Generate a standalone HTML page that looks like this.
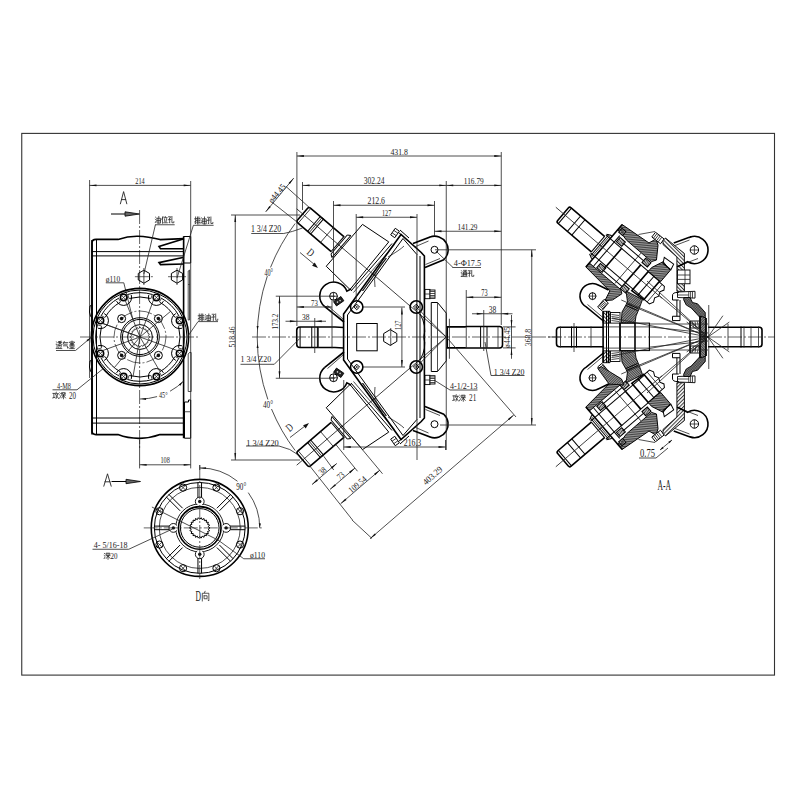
<!DOCTYPE html>
<html><head><meta charset="utf-8"><style>
html,body{margin:0;padding:0;background:#fff;width:800px;height:800px;overflow:hidden}
svg{display:block}
.fr{fill:none;stroke:#333;stroke-width:1.1}
.m{fill:none;stroke:#000;stroke-width:1.0}
.k{fill:none;stroke:#000;stroke-width:1.6}
.t{fill:none;stroke:#222;stroke-width:0.8}
.c{fill:none;stroke:#222;stroke-width:0.7;stroke-dasharray:14 2 2 2}
.d{fill:none;stroke:#333;stroke-width:0.55;stroke-dasharray:2 1.5}
.ar{fill:#111;stroke:none}
.fk{fill:#111;stroke:none}
.h{fill:url(#hatch);stroke:#000;stroke-width:0.9}
.h2{fill:url(#hatch2);stroke:#000;stroke-width:0.9}
.h3{fill:url(#hatch3);stroke:#000;stroke-width:0.9}
.hw{fill:#fff;stroke:#000;stroke-width:0.9}
.tx{font-family:"Liberation Serif",serif;fill:#1a1a1a}
.cj{fill:none;stroke:#222;stroke-width:0.75;stroke-linecap:round;stroke-linejoin:round}
</style></head><body>
<svg width="800" height="800" viewBox="0 0 800 800">
<defs>
<pattern id="hatch" patternUnits="userSpaceOnUse" width="1.8" height="1.8" patternTransform="rotate(45)">
<rect width="1.8" height="1.8" fill="#999"/><rect width="0.9" height="1.8" fill="#444"/></pattern>
<pattern id="hatch2" patternUnits="userSpaceOnUse" width="2.6" height="2.6" patternTransform="rotate(-45)">
<rect width="2.6" height="2.6" fill="#fff"/><rect width="1.0" height="2.6" fill="#333"/></pattern>
<pattern id="hatch3" patternUnits="userSpaceOnUse" width="1.6" height="1.6">
<rect width="1.6" height="1.6" fill="#888"/><rect width="0.8" height="0.8" fill="#333"/><rect x="0.8" y="0.8" width="0.8" height="0.8" fill="#333"/></pattern>
</defs>
<rect width="800" height="800" fill="#fff"/>
<rect x="21.75" y="133.4" width="752.75" height="541.7" class="fr"/>
<line x1="89.60" y1="180.00" x2="89.60" y2="378.00" class="t"/>
<line x1="89.50" y1="185.40" x2="190.70" y2="185.40" class="t"/>
<path d="M89.50,185.40 L96.50,184.50 L96.50,186.30 Z" class="ar"/>
<path d="M190.70,185.40 L183.70,186.30 L183.70,184.50 Z" class="ar"/>
<text x="135.30" y="184.00" font-size="8.36" textLength="9.40" lengthAdjust="spacingAndGlyphs" class="tx">214</text>
<path d="M120.4,203.8 L123.6,191.6 L126.8,203.8 M121.5,199.6 L125.7,199.6" class="cj" style="stroke-width:0.9"/>
<line x1="111.00" y1="214.00" x2="126.00" y2="214.00" class="m"/>
<path d="M139.5,214 L125,211.8 L125,216.2 Z" style="fill:#666;stroke:#000;stroke-width:0.8"/>
<line x1="139.60" y1="210.00" x2="139.60" y2="450.00" class="c"/>
<path d="M92,434.6 L92,243 Q92,239.4 96,239.4 L118,239.4 Q128,236 138,236.2 Q148,236.4 160,239.6 L184,238.6" class="k"/>
<path d="M92,240 L92,431 Q92,434.6 96,434.6 L118,434.6 Q128,438.5 139.6,438.4 Q150,438.3 160,434.6 L184,434.6" class="k"/>
<line x1="96.50" y1="239.40" x2="96.50" y2="434.60" class="m"/>
<line x1="92.00" y1="251.60" x2="184.00" y2="251.60" class="m"/>
<line x1="92.00" y1="255.90" x2="184.00" y2="255.90" class="m"/>
<line x1="92.00" y1="418.00" x2="184.00" y2="418.00" class="m"/>
<line x1="92.00" y1="423.10" x2="184.00" y2="423.10" class="m"/>
<line x1="183.60" y1="236.50" x2="183.60" y2="438.20" class="k"/>
<path d="M183.60,236.50 L190.70,236.50 L190.70,263.00 L183.60,263.00 Z" class="m"/>
<path d="M184.50,402.00 L188.50,402.00 L188.50,400.00 L190.70,400.00 L190.70,438.20 L184.50,438.20 Z" class="m"/>
<line x1="184.50" y1="411.75" x2="190.70" y2="411.75" class="t"/>
<path d="M184.00,238.80 L159.00,246.50 L160.50,248.60 L184.00,248.70" class="k"/>
<path d="M184.00,257.30 L159.00,262.60 L160.50,264.60 L184.00,264.00" class="k"/>
<path d="M188.20,271.00 L189.50,270.00 L189.50,320.00 L188.20,320.00 Z" class="t"/>
<line x1="188.20" y1="284.50" x2="189.50" y2="284.50" class="t"/>
<path d="M188.20,354.00 L189.50,352.50 L191.20,352.50 L191.20,391.50 L188.20,391.50 Z" class="t"/>
<line x1="190.70" y1="181.00" x2="190.70" y2="468.40" class="t"/>
<path d="M92.00,305.00 L90.00,306.00 L89.50,312.00 L90.50,316.00 L92.00,318.00" class="m"/>
<path d="M92.00,360.00 L90.00,361.00 L89.50,367.00 L90.50,371.00 L92.00,373.00" class="m"/>
<path d="M143.90,283.20 L138.27,279.95 L138.27,273.45 L143.90,270.20 L149.53,273.45 L149.53,279.95 Z" class="m"/>
<line x1="134.90" y1="276.70" x2="152.90" y2="276.70" class="c"/>
<line x1="143.90" y1="268.00" x2="143.90" y2="285.00" class="t"/>
<path d="M177.00,283.20 L171.37,279.95 L171.37,273.45 L177.00,270.20 L182.63,273.45 L182.63,279.95 Z" class="m"/>
<line x1="168.00" y1="276.70" x2="186.00" y2="276.70" class="c"/>
<line x1="177.00" y1="268.00" x2="177.00" y2="285.00" class="t"/>
<line x1="155.40" y1="224.75" x2="143.90" y2="274.00" class="t"/>
<line x1="155.00" y1="224.75" x2="174.70" y2="224.75" class="t"/>
<path d="M155.48,217.12 L156.08,217.65" class="cj"/>
<path d="M155.30,219.15 L155.90,219.75" class="cj"/>
<path d="M155.30,222.60 L156.20,220.88" class="cj"/>
<path d="M157.10,218.25 L160.52,218.25 L160.52,223.12 L157.10,223.12 L157.10,218.25" class="cj"/>
<path d="M157.10,220.65 L160.52,220.65" class="cj"/>
<path d="M158.81,216.38 L158.81,223.12" class="cj"/>
<path d="M163.00,216.38 L161.80,219.38" class="cj"/>
<path d="M162.52,217.88 L162.52,223.35" class="cj"/>
<path d="M165.22,216.38 L165.46,217.12" class="cj"/>
<path d="M163.78,217.65 L167.20,217.65" class="cj"/>
<path d="M164.50,218.85 L164.86,221.62" class="cj"/>
<path d="M166.60,218.62 L166.00,222.00" class="cj"/>
<path d="M163.60,222.75 L167.38,222.75" class="cj"/>
<path d="M168.48,216.75 L170.70,216.75 L169.68,218.25" class="cj"/>
<path d="M169.68,218.25 L169.68,223.12 L169.20,222.60" class="cj"/>
<path d="M168.12,219.75 L171.00,219.38" class="cj"/>
<path d="M171.90,216.38 L171.90,222.75 L173.88,222.75 L173.88,221.62" class="cj"/>
<line x1="193.40" y1="225.30" x2="177.00" y2="278.00" class="t"/>
<line x1="193.40" y1="225.30" x2="213.60" y2="225.30" class="t"/>
<path d="M194.52,218.84 L196.50,218.84" class="cj"/>
<path d="M195.60,216.89 L195.60,223.91 L195.12,223.36" class="cj"/>
<path d="M194.52,221.96 L196.50,220.79" class="cj"/>
<path d="M197.52,216.89 L197.52,224.14" class="cj"/>
<path d="M198.90,216.89 L198.90,224.14" class="cj"/>
<path d="M196.68,218.45 L197.52,218.45" class="cj"/>
<path d="M196.68,220.40 L197.52,220.40" class="cj"/>
<path d="M196.68,222.58 L197.52,222.12" class="cj"/>
<path d="M198.90,218.45 L200.10,218.45" class="cj"/>
<path d="M198.90,220.40 L200.10,220.40" class="cj"/>
<path d="M198.90,222.35 L200.28,222.35" class="cj"/>
<path d="M201.18,217.67 L201.78,218.22" class="cj"/>
<path d="M201.00,219.78 L201.60,220.40" class="cj"/>
<path d="M201.00,223.36 L201.90,221.57" class="cj"/>
<path d="M202.80,218.84 L206.22,218.84 L206.22,223.91 L202.80,223.91 L202.80,218.84" class="cj"/>
<path d="M202.80,221.34 L206.22,221.34" class="cj"/>
<path d="M204.51,216.89 L204.51,223.91" class="cj"/>
<path d="M207.48,217.28 L209.70,217.28 L208.68,218.84" class="cj"/>
<path d="M208.68,218.84 L208.68,223.91 L208.20,223.36" class="cj"/>
<path d="M207.12,220.40 L210.00,220.01" class="cj"/>
<path d="M210.90,216.89 L210.90,223.52 L212.88,223.52 L212.88,222.35" class="cj"/>
<text x="105.80" y="281.75" font-size="7.99" textLength="14.40" lengthAdjust="spacingAndGlyphs" class="tx">ø110</text>
<line x1="105.80" y1="282.80" x2="123.80" y2="282.80" class="t"/>
<line x1="123.80" y1="282.80" x2="133.00" y2="320.00" class="t"/>
<circle cx="140.00" cy="337.00" r="48.60" class="k"/>
<circle cx="140.00" cy="337.00" r="47.00" class="m"/>
<path d="M178.93,358.14 A44.3,44.3 0 0 1 161.14,375.93" class="m"/>
<path d="M174.81,356.70 A40.0,40.0 0 0 1 159.70,371.81" class="m"/>
<line x1="174.98" y1="356.39" x2="178.75" y2="358.48" class="t"/>
<line x1="159.39" y1="371.98" x2="161.48" y2="375.75" class="t"/>
<path d="M152.58,379.48 A44.3,44.3 0 0 1 127.42,379.48" class="m"/>
<path d="M150.69,375.55 A40.0,40.0 0 0 1 129.31,375.55" class="m"/>
<line x1="151.03" y1="375.45" x2="152.21" y2="379.58" class="t"/>
<line x1="128.97" y1="375.45" x2="127.79" y2="379.58" class="t"/>
<path d="M118.86,375.93 A44.3,44.3 0 0 1 101.07,358.14" class="m"/>
<path d="M120.30,371.81 A40.0,40.0 0 0 1 105.19,356.70" class="m"/>
<line x1="120.61" y1="371.98" x2="118.52" y2="375.75" class="t"/>
<line x1="105.02" y1="356.39" x2="101.25" y2="358.48" class="t"/>
<path d="M97.52,349.58 A44.3,44.3 0 0 1 97.52,324.42" class="m"/>
<path d="M101.45,347.69 A40.0,40.0 0 0 1 101.45,326.31" class="m"/>
<line x1="101.55" y1="348.03" x2="97.42" y2="349.21" class="t"/>
<line x1="101.55" y1="325.97" x2="97.42" y2="324.79" class="t"/>
<path d="M101.07,315.86 A44.3,44.3 0 0 1 118.86,298.07" class="m"/>
<path d="M105.19,317.30 A40.0,40.0 0 0 1 120.30,302.19" class="m"/>
<line x1="105.02" y1="317.61" x2="101.25" y2="315.52" class="t"/>
<line x1="120.61" y1="302.02" x2="118.52" y2="298.25" class="t"/>
<path d="M127.42,294.52 A44.3,44.3 0 0 1 152.58,294.52" class="m"/>
<path d="M129.31,298.45 A40.0,40.0 0 0 1 150.69,298.45" class="m"/>
<line x1="128.97" y1="298.55" x2="127.79" y2="294.42" class="t"/>
<line x1="151.03" y1="298.55" x2="152.21" y2="294.42" class="t"/>
<path d="M161.14,298.07 A44.3,44.3 0 0 1 178.93,315.86" class="m"/>
<path d="M159.70,302.19 A40.0,40.0 0 0 1 174.81,317.30" class="m"/>
<line x1="159.39" y1="302.02" x2="161.48" y2="298.25" class="t"/>
<line x1="174.98" y1="317.61" x2="178.75" y2="315.52" class="t"/>
<path d="M182.48,324.42 A44.3,44.3 0 0 1 182.48,349.58" class="m"/>
<path d="M178.55,326.31 A40.0,40.0 0 0 1 178.55,347.69" class="m"/>
<line x1="178.45" y1="325.97" x2="182.58" y2="324.79" class="t"/>
<line x1="178.45" y1="348.03" x2="182.58" y2="349.21" class="t"/>
<path d="M175.85,360.47 A8,8 0 0 1 181.95,345.75" class="m"/>
<circle cx="179.54" cy="353.38" r="3.20" class="k"/>
<line x1="177.34" y1="351.18" x2="181.74" y2="355.58" class="t"/>
<line x1="177.34" y1="355.58" x2="181.74" y2="351.18" class="t"/>
<path d="M148.75,378.95 A8,8 0 0 1 163.47,372.85" class="m"/>
<circle cx="156.38" cy="376.54" r="3.20" class="k"/>
<line x1="154.18" y1="374.34" x2="158.58" y2="378.74" class="t"/>
<line x1="154.18" y1="378.74" x2="158.58" y2="374.34" class="t"/>
<path d="M116.53,372.85 A8,8 0 0 1 131.25,378.95" class="m"/>
<circle cx="123.62" cy="376.54" r="3.20" class="k"/>
<line x1="121.42" y1="374.34" x2="125.82" y2="378.74" class="t"/>
<line x1="121.42" y1="378.74" x2="125.82" y2="374.34" class="t"/>
<path d="M98.05,345.75 A8,8 0 0 1 104.15,360.47" class="m"/>
<circle cx="100.46" cy="353.38" r="3.20" class="k"/>
<line x1="98.26" y1="351.18" x2="102.66" y2="355.58" class="t"/>
<line x1="98.26" y1="355.58" x2="102.66" y2="351.18" class="t"/>
<path d="M104.15,313.53 A8,8 0 0 1 98.05,328.25" class="m"/>
<circle cx="100.46" cy="320.62" r="3.20" class="k"/>
<line x1="98.26" y1="318.42" x2="102.66" y2="322.82" class="t"/>
<line x1="98.26" y1="322.82" x2="102.66" y2="318.42" class="t"/>
<path d="M131.25,295.05 A8,8 0 0 1 116.53,301.15" class="m"/>
<circle cx="123.62" cy="297.46" r="3.20" class="k"/>
<line x1="121.42" y1="295.26" x2="125.82" y2="299.66" class="t"/>
<line x1="121.42" y1="299.66" x2="125.82" y2="295.26" class="t"/>
<path d="M163.47,301.15 A8,8 0 0 1 148.75,295.05" class="m"/>
<circle cx="156.38" cy="297.46" r="3.20" class="k"/>
<line x1="154.18" y1="295.26" x2="158.58" y2="299.66" class="t"/>
<line x1="154.18" y1="299.66" x2="158.58" y2="295.26" class="t"/>
<path d="M181.95,328.25 A8,8 0 0 1 175.85,313.53" class="m"/>
<circle cx="179.54" cy="320.62" r="3.20" class="k"/>
<line x1="177.34" y1="318.42" x2="181.74" y2="322.82" class="t"/>
<line x1="177.34" y1="322.82" x2="181.74" y2="318.42" class="t"/>
<circle cx="140.00" cy="337.00" r="26.00" class="c"/>
<circle cx="158.38" cy="355.38" r="4.00" class="m"/>
<circle cx="158.38" cy="355.38" r="1.8" class="fk"/>
<circle cx="121.62" cy="355.38" r="4.00" class="m"/>
<circle cx="121.62" cy="355.38" r="1.8" class="fk"/>
<circle cx="121.62" cy="318.62" r="4.00" class="m"/>
<circle cx="121.62" cy="318.62" r="1.8" class="fk"/>
<circle cx="158.38" cy="318.62" r="4.00" class="m"/>
<circle cx="158.38" cy="318.62" r="1.8" class="fk"/>
<circle cx="140.00" cy="337.00" r="19.30" class="m"/>
<circle cx="140.00" cy="337.00" r="17.60" class="m"/>
<circle cx="140.00" cy="337.00" r="12.40" class="m"/>
<path d="M149.80,337.00 L148.49,338.35 L149.32,340.03 L147.66,340.90 L147.93,342.76 L146.08,343.08 L145.76,344.93 L143.90,344.66 L143.03,346.32 L141.35,345.49 L140.00,346.80 L138.65,345.49 L136.97,346.32 L136.10,344.66 L134.24,344.93 L133.92,343.08 L132.07,342.76 L132.34,340.90 L130.68,340.03 L131.51,338.35 L130.20,337.00 L131.51,335.65 L130.68,333.97 L132.34,333.10 L132.07,331.24 L133.92,330.92 L134.24,329.07 L136.10,329.34 L136.97,327.68 L138.65,328.51 L140.00,327.20 L141.35,328.51 L143.03,327.68 L143.90,329.34 L145.76,329.07 L146.08,330.92 L147.93,331.24 L147.66,333.10 L149.32,333.97 L148.49,335.65 Z" class="t"/>
<line x1="140.00" y1="337.00" x2="125.02" y2="299.91" class="t"/>
<line x1="140.00" y1="337.00" x2="153.68" y2="299.41" class="t"/>
<line x1="140.00" y1="337.00" x2="102.41" y2="323.32" class="t"/>
<line x1="140.00" y1="337.00" x2="102.41" y2="323.32" class="t"/>
<line x1="140.00" y1="337.00" x2="177.59" y2="350.68" class="t"/>
<line x1="140.00" y1="337.00" x2="160.00" y2="371.64" class="t"/>
<line x1="140.00" y1="337.00" x2="133.05" y2="376.39" class="t"/>
<line x1="140.00" y1="337.00" x2="114.29" y2="367.64" class="t"/>
<line x1="140.00" y1="337.00" x2="170.64" y2="311.29" class="t"/>
<line x1="140.00" y1="337.00" x2="102.41" y2="350.68" class="t"/>
<line x1="80.00" y1="337.00" x2="200.00" y2="337.00" class="c"/>
<line x1="75.50" y1="350.50" x2="91.00" y2="337.50" class="t"/>
<path d="M91.00,337.50 L87.81,341.48 L86.53,339.95 Z" class="ar"/>
<line x1="56.00" y1="350.50" x2="75.50" y2="350.50" class="t"/>
<path d="M56.48,341.80 L56.90,342.44" class="cj"/>
<path d="M56.12,344.20 L57.08,344.20 L57.08,347.40 L56.30,348.36" class="cj"/>
<path d="M56.30,348.36 L61.88,348.60" class="cj"/>
<path d="M58.40,341.64 L61.40,341.24" class="cj"/>
<path d="M58.10,342.60 L61.88,342.60" class="cj"/>
<path d="M59.90,341.40 L59.90,344.60" class="cj"/>
<path d="M59.90,342.76 L58.28,344.60" class="cj"/>
<path d="M59.90,342.76 L61.70,344.60" class="cj"/>
<path d="M58.40,345.40 L61.40,345.40 L60.80,347.80" class="cj"/>
<path d="M59.30,345.40 L58.70,347.80" class="cj"/>
<path d="M64.30,341.40 L63.10,344.20" class="cj"/>
<path d="M63.70,342.60 L67.90,342.60" class="cj"/>
<path d="M64.00,344.20 L67.30,344.20" class="cj"/>
<path d="M63.40,345.80 L67.30,345.80 L67.60,348.20 L68.38,347.80" class="cj"/>
<path d="M72.00,341.00 L72.00,341.64" class="cj"/>
<path d="M69.60,342.60 L69.60,341.96 L74.40,341.96 L74.40,342.60" class="cj"/>
<path d="M70.50,343.24 L73.50,343.24" class="cj"/>
<path d="M70.20,344.20 L73.80,344.20" class="cj"/>
<path d="M69.60,345.16 L74.40,345.16" class="cj"/>
<path d="M71.28,342.76 L71.28,345.16" class="cj"/>
<path d="M72.72,342.76 L72.72,345.16" class="cj"/>
<path d="M70.80,345.80 L69.60,347.00" class="cj"/>
<path d="M73.20,345.80 L74.40,347.00" class="cj"/>
<path d="M72.00,346.20 L72.00,348.60" class="cj"/>
<path d="M70.50,347.24 L73.50,347.24" class="cj"/>
<path d="M69.60,348.60 L74.40,348.60" class="cj"/>
<text x="57.00" y="388.50" font-size="8.21" textLength="14.00" lengthAdjust="spacingAndGlyphs" class="tx">4-M8</text>
<line x1="52.50" y1="389.80" x2="77.00" y2="389.80" class="t"/>
<line x1="77.00" y1="389.80" x2="104.00" y2="368.00" class="t"/>
<path d="M52.81,393.40 L55.02,393.40" class="cj"/>
<path d="M53.89,393.40 L53.89,397.60" class="cj"/>
<path d="M52.63,397.95 L55.15,397.25" class="cj"/>
<path d="M56.28,392.14 L55.65,394.45" class="cj"/>
<path d="M55.97,393.75 L58.48,393.75" class="cj"/>
<path d="M57.85,393.75 L55.97,398.65" class="cj"/>
<path d="M55.97,395.15 L58.67,398.65" class="cj"/>
<path d="M59.80,392.84 L60.43,393.40" class="cj"/>
<path d="M59.61,394.94 L60.24,395.50" class="cj"/>
<path d="M59.61,398.16 L60.56,396.55" class="cj"/>
<path d="M61.50,393.75 L61.50,392.70 L65.28,392.70 L65.28,393.75" class="cj"/>
<path d="M62.58,393.26 L62.13,394.45" class="cj"/>
<path d="M64.21,393.26 L64.66,394.45" class="cj"/>
<path d="M61.50,395.15 L65.47,395.15" class="cj"/>
<path d="M63.46,394.45 L63.46,398.86" class="cj"/>
<path d="M63.46,395.50 L61.69,397.95" class="cj"/>
<path d="M63.46,395.50 L65.47,397.95" class="cj"/>
<text x="69.00" y="399.00" font-size="9.70" textLength="7.00" lengthAdjust="spacingAndGlyphs" class="tx">20</text>
<line x1="188.00" y1="336.00" x2="198.00" y2="321.60" class="t"/>
<line x1="198.00" y1="321.60" x2="218.00" y2="321.60" class="t"/>
<path d="M198.13,315.75 L200.21,315.75" class="cj"/>
<path d="M199.26,313.88 L199.26,320.62 L198.76,320.10" class="cj"/>
<path d="M198.13,318.75 L200.21,317.62" class="cj"/>
<path d="M201.28,313.88 L201.28,320.85" class="cj"/>
<path d="M202.72,313.88 L202.72,320.85" class="cj"/>
<path d="M200.39,315.38 L201.28,315.38" class="cj"/>
<path d="M200.39,317.25 L201.28,317.25" class="cj"/>
<path d="M200.39,319.35 L201.28,318.90" class="cj"/>
<path d="M202.72,315.38 L203.99,315.38" class="cj"/>
<path d="M202.72,317.25 L203.99,317.25" class="cj"/>
<path d="M202.72,319.12 L204.17,319.12" class="cj"/>
<path d="M205.30,314.62 L205.93,315.15" class="cj"/>
<path d="M205.12,316.65 L205.75,317.25" class="cj"/>
<path d="M205.12,320.10 L206.06,318.38" class="cj"/>
<path d="M207.01,315.75 L210.60,315.75 L210.60,320.62 L207.01,320.62 L207.01,315.75" class="cj"/>
<path d="M207.01,318.15 L210.60,318.15" class="cj"/>
<path d="M208.80,313.88 L208.80,320.62" class="cj"/>
<path d="M212.10,314.25 L214.44,314.25 L213.36,315.75" class="cj"/>
<path d="M213.36,315.75 L213.36,320.62 L212.86,320.10" class="cj"/>
<path d="M211.73,317.25 L214.75,316.88" class="cj"/>
<path d="M215.69,313.88 L215.69,320.25 L217.77,320.25 L217.77,319.12" class="cj"/>
<path d="M140.00,399.00 A62,62 0 0 0 157.09,396.60 M170.06,391.23 A62,62 0 0 0 183.84,380.84" class="t"/>
<path d="M183.07,381.60 L180.24,385.84 L178.83,384.43 Z" class="ar"/>
<path d="M141.08,398.99 L146.08,397.99 L146.08,399.99 Z" class="ar"/>
<line x1="139.60" y1="440.00" x2="139.60" y2="468.40" class="t"/>
<text x="159.00" y="398.00" font-size="8.66" textLength="8.60" lengthAdjust="spacingAndGlyphs" class="tx">45°</text>
<line x1="139.60" y1="464.80" x2="190.70" y2="464.80" class="t"/>
<path d="M139.60,464.80 L146.60,463.90 L146.60,465.70 Z" class="ar"/>
<path d="M190.70,464.80 L183.70,465.70 L183.70,463.90 Z" class="ar"/>
<text x="160.40" y="463.30" font-size="8.51" textLength="9.40" lengthAdjust="spacingAndGlyphs" class="tx">108</text>
<g transform="translate(446.25,337) rotate(220.6)">
<path d="M143,9.5 L187,9.5 Q189,9.5 189,7.5 L189,-8 Q189,-10 187,-10 L143,-10" class="k"/>
<line x1="186.50" y1="-10.00" x2="186.50" y2="9.50" class="t"/>
<line x1="174.00" y1="-10.00" x2="174.00" y2="10.20" class="m"/>
<line x1="172.00" y1="-10.00" x2="172.00" y2="10.20" class="t"/>
<line x1="170.00" y1="-10.00" x2="170.00" y2="10.20" class="m"/>
<line x1="157.00" y1="-10.00" x2="157.00" y2="10.20" class="t"/>
<line x1="143.00" y1="-10.00" x2="143.00" y2="10.20" class="m"/>
<line x1="141.50" y1="-12.00" x2="141.50" y2="13.00" class="m"/>
<line x1="138.50" y1="-14.00" x2="138.50" y2="15.00" class="m"/>
<line x1="141.50" y1="-12.00" x2="138.50" y2="-14.00" class="m"/>
<line x1="141.50" y1="13.00" x2="138.50" y2="15.00" class="m"/>
<line x1="0.00" y1="0.00" x2="197.00" y2="0.00" class="t"/>
</g>
<path d="M362.50,224.40 L388.75,241.90 L350.00,289.50 L326.25,266.25 Z" class="m"/>
<line x1="392.00" y1="243.50" x2="351.00" y2="291.00" class="m"/>
<line x1="394.50" y1="244.50" x2="353.50" y2="292.50" class="t"/>
<path d="M385.60,258.00 L387.00,258.00 L363.20,291.00 L361.80,291.00 Z" class="fk"/>
<line x1="396.00" y1="230.50" x2="401.00" y2="234.50" class="m"/>
<line x1="400.00" y1="230.00" x2="409.00" y2="238.00" class="m"/>
<path d="M386,259 Q372,272 375,287" class="t"/>
<path d="M388,257 Q400,250 404,246" class="t"/>
<g transform="translate(395,233) rotate(-55)">
<rect x="-4" y="-2.5" width="8" height="5" class="hw"/>
<line x1="-1.50" y1="-2.50" x2="-1.50" y2="2.50" class="t"/>
<line x1="1.50" y1="-2.50" x2="1.50" y2="2.50" class="t"/>
</g>
<path d="M343.60,337.00 L343.60,314.00 L401.00,234.50 L421.25,252.50 L424.40,256.00 L424.40,337.00" class="k"/>
<path d="M347.50,337.00 L347.50,315.00 L403.00,238.50 L416.90,254.50 L416.90,337.00" class="m"/>
<line x1="417.00" y1="214.00" x2="417.00" y2="255.00" class="t"/>
<line x1="420.00" y1="256.00" x2="420.00" y2="337.00" class="m"/>
<path d="M324.75,306.72 A14,14 0 1 1 346.91,291.21 L351,289" class="k"/>
<line x1="324.75" y1="306.72" x2="344.00" y2="322.00" class="k"/>
<line x1="327.50" y1="305.50" x2="343.00" y2="319.00" class="t"/>
<circle cx="333.50" cy="296.25" r="3.90" class="m"/>
<line x1="329.00" y1="296.25" x2="338.00" y2="296.25" class="t"/>
<line x1="333.50" y1="292.00" x2="333.50" y2="300.50" class="t"/>
<g transform="translate(338.7,301.2) rotate(-35)">
<rect x="-4.5" y="-2.6" width="9" height="5.2" style="fill:#222;stroke:#000;stroke-width:0.8"/>
<circle cx="-1.5" cy="0" r="0.8" fill="#ddd"/><circle cx="1.5" cy="0.3" r="0.8" fill="#ddd"/>
</g>
<path d="M413,243.5 L430,237 L429.98,236.97 A13.6,13.6 0 0 1 443.78,259.75 L425,267.5" class="k"/>
<line x1="414.50" y1="247.00" x2="428.50" y2="241.00" class="t"/>
<line x1="425.50" y1="264.50" x2="440.00" y2="258.50" class="t"/>
<circle cx="434.50" cy="249.80" r="3.50" class="m"/>
<circle cx="356.70" cy="307.00" r="6.20" class="k"/>
<path d="M356.70,304.20 L359.50,307.00 L356.70,309.80 L353.90,307.00 Z" class="m"/>
<line x1="355.50" y1="307.00" x2="357.90" y2="307.00" class="t"/>
<line x1="356.70" y1="305.80" x2="356.70" y2="308.20" class="t"/>
<circle cx="416.25" cy="307.00" r="6.20" class="k"/>
<path d="M416.25,304.20 L419.05,307.00 L416.25,309.80 L413.45,307.00 Z" class="m"/>
<line x1="415.05" y1="307.00" x2="417.45" y2="307.00" class="t"/>
<line x1="416.25" y1="305.80" x2="416.25" y2="308.20" class="t"/>
<path d="M431.25,337.00 L431.25,302.50 L437.50,302.50 L446.25,313.10 L446.25,337.00" class="m"/>
<line x1="437.50" y1="302.50" x2="437.50" y2="337.00" class="t"/>
<path d="M420,314 Q427,326 423.75,337" class="m"/>
<rect x="425" y="289.4" width="5" height="9.3" class="hw"/>
<rect x="430" y="290" width="5" height="8.3" class="hw"/>
<line x1="430.00" y1="291.50" x2="435.00" y2="291.50" class="t"/>
<line x1="430.00" y1="293.50" x2="435.00" y2="293.50" class="t"/>
<line x1="430.00" y1="295.50" x2="435.00" y2="295.50" class="t"/>
<line x1="430.00" y1="297.00" x2="435.00" y2="297.00" class="t"/>
<line x1="425.00" y1="294.00" x2="430.00" y2="294.00" class="t"/>
<line x1="416.25" y1="307.00" x2="446.25" y2="337.00" class="t"/>
<g transform="translate(0,674) scale(1,-1)">
<g transform="translate(446.25,337) rotate(220.6)">
<path d="M143,9.5 L187,9.5 Q189,9.5 189,7.5 L189,-8 Q189,-10 187,-10 L143,-10" class="k"/>
<line x1="186.50" y1="-10.00" x2="186.50" y2="9.50" class="t"/>
<line x1="174.00" y1="-10.00" x2="174.00" y2="10.20" class="m"/>
<line x1="172.00" y1="-10.00" x2="172.00" y2="10.20" class="t"/>
<line x1="170.00" y1="-10.00" x2="170.00" y2="10.20" class="m"/>
<line x1="157.00" y1="-10.00" x2="157.00" y2="10.20" class="t"/>
<line x1="143.00" y1="-10.00" x2="143.00" y2="10.20" class="m"/>
<line x1="141.50" y1="-12.00" x2="141.50" y2="13.00" class="m"/>
<line x1="138.50" y1="-14.00" x2="138.50" y2="15.00" class="m"/>
<line x1="141.50" y1="-12.00" x2="138.50" y2="-14.00" class="m"/>
<line x1="141.50" y1="13.00" x2="138.50" y2="15.00" class="m"/>
<line x1="0.00" y1="0.00" x2="197.00" y2="0.00" class="t"/>
</g>
<path d="M362.50,224.40 L388.75,241.90 L350.00,289.50 L326.25,266.25 Z" class="m"/>
<line x1="392.00" y1="243.50" x2="351.00" y2="291.00" class="m"/>
<line x1="394.50" y1="244.50" x2="353.50" y2="292.50" class="t"/>
<path d="M385.60,258.00 L387.00,258.00 L363.20,291.00 L361.80,291.00 Z" class="fk"/>
<line x1="396.00" y1="230.50" x2="401.00" y2="234.50" class="m"/>
<line x1="400.00" y1="230.00" x2="409.00" y2="238.00" class="m"/>
<path d="M386,259 Q372,272 375,287" class="t"/>
<path d="M388,257 Q400,250 404,246" class="t"/>
<g transform="translate(395,233) rotate(-55)">
<rect x="-4" y="-2.5" width="8" height="5" class="hw"/>
<line x1="-1.50" y1="-2.50" x2="-1.50" y2="2.50" class="t"/>
<line x1="1.50" y1="-2.50" x2="1.50" y2="2.50" class="t"/>
</g>
<path d="M343.60,337.00 L343.60,314.00 L401.00,234.50 L421.25,252.50 L424.40,256.00 L424.40,337.00" class="k"/>
<path d="M347.50,337.00 L347.50,315.00 L403.00,238.50 L416.90,254.50 L416.90,337.00" class="m"/>
<line x1="417.00" y1="214.00" x2="417.00" y2="255.00" class="t"/>
<line x1="420.00" y1="256.00" x2="420.00" y2="337.00" class="m"/>
<path d="M324.75,306.72 A14,14 0 1 1 346.91,291.21 L351,289" class="k"/>
<line x1="324.75" y1="306.72" x2="344.00" y2="322.00" class="k"/>
<line x1="327.50" y1="305.50" x2="343.00" y2="319.00" class="t"/>
<circle cx="333.50" cy="296.25" r="3.90" class="m"/>
<line x1="329.00" y1="296.25" x2="338.00" y2="296.25" class="t"/>
<line x1="333.50" y1="292.00" x2="333.50" y2="300.50" class="t"/>
<g transform="translate(338.7,301.2) rotate(-35)">
<rect x="-4.5" y="-2.6" width="9" height="5.2" style="fill:#222;stroke:#000;stroke-width:0.8"/>
<circle cx="-1.5" cy="0" r="0.8" fill="#ddd"/><circle cx="1.5" cy="0.3" r="0.8" fill="#ddd"/>
</g>
<path d="M413,243.5 L430,237 L429.98,236.97 A13.6,13.6 0 0 1 443.78,259.75 L425,267.5" class="k"/>
<line x1="414.50" y1="247.00" x2="428.50" y2="241.00" class="t"/>
<line x1="425.50" y1="264.50" x2="440.00" y2="258.50" class="t"/>
<circle cx="434.50" cy="249.80" r="3.50" class="m"/>
<circle cx="356.70" cy="307.00" r="6.20" class="k"/>
<path d="M356.70,304.20 L359.50,307.00 L356.70,309.80 L353.90,307.00 Z" class="m"/>
<line x1="355.50" y1="307.00" x2="357.90" y2="307.00" class="t"/>
<line x1="356.70" y1="305.80" x2="356.70" y2="308.20" class="t"/>
<circle cx="416.25" cy="307.00" r="6.20" class="k"/>
<path d="M416.25,304.20 L419.05,307.00 L416.25,309.80 L413.45,307.00 Z" class="m"/>
<line x1="415.05" y1="307.00" x2="417.45" y2="307.00" class="t"/>
<line x1="416.25" y1="305.80" x2="416.25" y2="308.20" class="t"/>
<path d="M431.25,337.00 L431.25,302.50 L437.50,302.50 L446.25,313.10 L446.25,337.00" class="m"/>
<line x1="437.50" y1="302.50" x2="437.50" y2="337.00" class="t"/>
<path d="M420,314 Q427,326 423.75,337" class="m"/>
<rect x="425" y="289.4" width="5" height="9.3" class="hw"/>
<rect x="430" y="290" width="5" height="8.3" class="hw"/>
<line x1="430.00" y1="291.50" x2="435.00" y2="291.50" class="t"/>
<line x1="430.00" y1="293.50" x2="435.00" y2="293.50" class="t"/>
<line x1="430.00" y1="295.50" x2="435.00" y2="295.50" class="t"/>
<line x1="430.00" y1="297.00" x2="435.00" y2="297.00" class="t"/>
<line x1="425.00" y1="294.00" x2="430.00" y2="294.00" class="t"/>
<line x1="416.25" y1="307.00" x2="446.25" y2="337.00" class="t"/>
</g>
<rect x="356.7" y="323.5" width="20.5" height="27.3" class="m"/>
<path d="M390.25,345.40 L383.67,341.45 L383.67,333.55 L390.25,329.60 L396.83,333.55 L396.83,341.45 Z" class="m"/>
<line x1="390.75" y1="328.00" x2="390.75" y2="346.00" class="t"/>
<path d="M343.6,327.5 L335,327 L300,327 Q296.75,327 296.75,330 L296.75,344.5 Q296.75,347.5 300,347.5 L335,347.5 L343.6,348" class="k"/>
<line x1="300.10" y1="327.00" x2="300.10" y2="347.50" class="m"/>
<line x1="311.75" y1="327.00" x2="311.75" y2="347.50" class="m"/>
<line x1="317.40" y1="327.00" x2="317.40" y2="347.50" class="m"/>
<line x1="318.50" y1="327.00" x2="318.50" y2="347.50" class="t"/>
<line x1="314.75" y1="318.00" x2="314.75" y2="353.00" class="t"/>
<line x1="332.00" y1="326.80" x2="332.00" y2="348.25" class="t"/>
<path d="M446.25,326.9 L465,326.9 L466.25,326.5 L499.5,326.5 Q502.5,326.5 502.5,329.5 L502.5,345 Q502.5,348 499.5,348 L466.25,348 L465,347.9 L446.25,347.9" class="k"/>
<line x1="466.25" y1="326.90" x2="466.25" y2="347.90" class="t"/>
<line x1="480.60" y1="326.50" x2="480.60" y2="347.50" class="m"/>
<line x1="487.00" y1="326.50" x2="487.00" y2="347.50" class="m"/>
<line x1="498.00" y1="326.50" x2="498.00" y2="347.50" class="t"/>
<line x1="447.50" y1="326.50" x2="447.50" y2="347.50" class="m"/>
<line x1="252.00" y1="337.00" x2="560.00" y2="337.00" class="c"/>
<line x1="446.25" y1="181.00" x2="446.25" y2="450.00" class="t"/>
<path d="M295.11,223.52 A189,189 0 0 0 270.52,267.42 M267.33,276.09 A189,189 0 0 0 267.87,399.47 M271.51,409.02 A189,189 0 0 0 295.11,450.48" class="t"/>
<path d="M257.30,330.00 L256.65,325.93 L258.64,326.10 Z" class="ar"/>
<path d="M257.30,344.00 L258.64,347.90 L256.65,348.07 Z" class="ar"/>
<text x="264.50" y="276.25" font-size="11.19" textLength="8.50" lengthAdjust="spacingAndGlyphs" class="tx">40°</text>
<text x="263.00" y="407.50" font-size="9.33" textLength="10.00" lengthAdjust="spacingAndGlyphs" class="tx">40°</text>
<line x1="296.90" y1="152.00" x2="296.90" y2="326.00" class="t"/>
<line x1="501.25" y1="152.00" x2="501.25" y2="325.00" class="t"/>
<line x1="296.90" y1="156.00" x2="501.25" y2="156.00" class="t"/>
<path d="M296.90,156.00 L303.90,155.10 L303.90,156.90 Z" class="ar"/>
<path d="M501.25,156.00 L494.25,156.90 L494.25,155.10 Z" class="ar"/>
<text x="390.40" y="154.60" font-size="8.96" textLength="17.60" lengthAdjust="spacingAndGlyphs" class="tx">431.8</text>
<line x1="302.50" y1="182.00" x2="302.50" y2="210.00" class="t"/>
<line x1="302.50" y1="185.40" x2="446.25" y2="185.40" class="t"/>
<path d="M302.50,185.40 L309.50,184.50 L309.50,186.30 Z" class="ar"/>
<path d="M446.25,185.40 L439.25,186.30 L439.25,184.50 Z" class="ar"/>
<text x="363.75" y="184.40" font-size="9.40" textLength="20.65" lengthAdjust="spacingAndGlyphs" class="tx">302.24</text>
<line x1="446.25" y1="185.40" x2="501.25" y2="185.40" class="t"/>
<path d="M446.25,185.40 L453.25,184.50 L453.25,186.30 Z" class="ar"/>
<path d="M501.25,185.40 L494.25,186.30 L494.25,184.50 Z" class="ar"/>
<text x="463.75" y="184.20" font-size="8.51" textLength="20.00" lengthAdjust="spacingAndGlyphs" class="tx">116.79</text>
<line x1="333.50" y1="201.00" x2="333.50" y2="283.00" class="t"/>
<line x1="434.50" y1="201.00" x2="434.50" y2="236.00" class="t"/>
<line x1="333.50" y1="205.25" x2="434.50" y2="205.25" class="t"/>
<path d="M333.50,205.25 L340.50,204.35 L340.50,206.15 Z" class="ar"/>
<path d="M434.50,205.25 L427.50,206.15 L427.50,204.35 Z" class="ar"/>
<text x="367.50" y="204.40" font-size="9.40" textLength="17.50" lengthAdjust="spacingAndGlyphs" class="tx">212.6</text>
<line x1="356.20" y1="214.00" x2="356.20" y2="301.00" class="t"/>
<line x1="356.20" y1="217.25" x2="417.00" y2="217.25" class="t"/>
<path d="M356.20,217.25 L363.20,216.35 L363.20,218.15 Z" class="ar"/>
<path d="M417.00,217.25 L410.00,218.15 L410.00,216.35 Z" class="ar"/>
<text x="382.00" y="216.25" font-size="8.58" textLength="9.25" lengthAdjust="spacingAndGlyphs" class="tx">127</text>
<line x1="434.50" y1="231.25" x2="501.25" y2="231.25" class="t"/>
<path d="M434.50,231.25 L441.50,230.35 L441.50,232.15 Z" class="ar"/>
<path d="M501.25,231.25 L494.25,232.15 L494.25,230.35 Z" class="ar"/>
<text x="457.50" y="230.20" font-size="8.51" textLength="20.00" lengthAdjust="spacingAndGlyphs" class="tx">141.29</text>
<line x1="265.60" y1="211.90" x2="293.75" y2="178.10" class="t"/>
<path d="M265.60,211.90 L269.41,205.96 L270.79,207.12 Z" class="ar"/>
<path d="M293.75,178.10 L289.94,184.04 L288.56,182.88 Z" class="ar"/>
<line x1="310.00" y1="208.10" x2="286.00" y2="186.50" class="t"/>
<line x1="296.90" y1="221.90" x2="273.00" y2="203.00" class="t"/>
<text transform="translate(277.00,193.50) rotate(-50)" x="-11.00" y="3.00" font-size="8.96" textLength="22.00" lengthAdjust="spacingAndGlyphs" class="tx">ø44.45</text>
<line x1="231.00" y1="215.00" x2="300.00" y2="215.00" class="t"/>
<line x1="231.00" y1="460.00" x2="300.00" y2="460.00" class="t"/>
<line x1="235.25" y1="215.00" x2="235.25" y2="460.00" class="t"/>
<path d="M235.25,215.00 L236.15,222.00 L234.35,222.00 Z" class="ar"/>
<path d="M235.25,460.00 L234.35,453.00 L236.15,453.00 Z" class="ar"/>
<text transform="translate(231.50,337.00) rotate(-90)" x="-10.50" y="3.00" font-size="8.96" textLength="21.00" lengthAdjust="spacingAndGlyphs" class="tx">518.46</text>
<text x="251.00" y="231.90" font-size="9.40" textLength="30.25" lengthAdjust="spacingAndGlyphs" class="tx">1 3/4 Z20</text>
<line x1="251.25" y1="233.50" x2="283.75" y2="233.50" class="t"/>
<path d="M283.75,233.5 Q292,232 302.5,228" class="t"/>
<text transform="translate(310.60,252.50) rotate(40)" x="-3.00" y="3.75" font-size="11.19" textLength="6.00" lengthAdjust="spacingAndGlyphs" class="tx">D</text>
<line x1="300.00" y1="252.50" x2="315.00" y2="265.00" class="t"/>
<path d="M318.00,268.00 L312.12,265.68 L314.69,262.61 Z" class="ar"/>
<line x1="275.75" y1="296.20" x2="335.00" y2="296.20" class="t"/>
<line x1="275.75" y1="378.25" x2="335.00" y2="378.25" class="t"/>
<line x1="279.50" y1="296.20" x2="279.50" y2="378.25" class="t"/>
<path d="M279.50,296.20 L280.40,303.20 L278.60,303.20 Z" class="ar"/>
<path d="M279.50,378.25 L278.60,371.25 L280.40,371.25 Z" class="ar"/>
<text transform="translate(275.00,321.60) rotate(-90)" x="-7.85" y="3.00" font-size="8.96" textLength="15.70" lengthAdjust="spacingAndGlyphs" class="tx">173.2</text>
<line x1="296.90" y1="307.00" x2="332.00" y2="307.00" class="t"/>
<path d="M296.90,307.00 L303.90,306.10 L303.90,307.90 Z" class="ar"/>
<path d="M332.00,307.00 L325.00,307.90 L325.00,306.10 Z" class="ar"/>
<text x="311.00" y="305.80" font-size="8.28" textLength="6.75" lengthAdjust="spacingAndGlyphs" class="tx">73</text>
<line x1="332.00" y1="300.00" x2="332.00" y2="326.80" class="t"/>
<line x1="285.50" y1="321.25" x2="326.00" y2="321.25" class="t"/>
<path d="M296.90,321.25 L289.90,322.15 L289.90,320.35 Z" class="ar"/>
<path d="M314.75,321.25 L321.75,320.35 L321.75,322.15 Z" class="ar"/>
<text x="302.00" y="320.20" font-size="8.51" textLength="7.50" lengthAdjust="spacingAndGlyphs" class="tx">38</text>
<text x="240.50" y="361.75" font-size="8.96" textLength="30.75" lengthAdjust="spacingAndGlyphs" class="tx">1 3/4 Z20</text>
<line x1="240.50" y1="364.30" x2="274.25" y2="364.30" class="t"/>
<line x1="274.25" y1="364.30" x2="299.75" y2="338.50" class="t"/>
<line x1="466.25" y1="297.25" x2="501.25" y2="297.25" class="t"/>
<path d="M466.25,297.25 L473.25,296.35 L473.25,298.15 Z" class="ar"/>
<path d="M501.25,297.25 L494.25,298.15 L494.25,296.35 Z" class="ar"/>
<text x="481.25" y="296.25" font-size="9.63" textLength="6.25" lengthAdjust="spacingAndGlyphs" class="tx">73</text>
<line x1="466.25" y1="290.00" x2="466.25" y2="326.00" class="t"/>
<line x1="483.75" y1="310.00" x2="483.75" y2="351.00" class="t"/>
<line x1="472.00" y1="313.75" x2="512.50" y2="313.75" class="t"/>
<path d="M483.75,313.75 L476.75,314.65 L476.75,312.85 Z" class="ar"/>
<path d="M501.25,313.75 L508.25,312.85 L508.25,314.65 Z" class="ar"/>
<line x1="449.40" y1="318.75" x2="449.40" y2="358.75" class="t"/>
<text x="488.75" y="312.50" font-size="9.33" textLength="7.50" lengthAdjust="spacingAndGlyphs" class="tx">38</text>
<line x1="503.00" y1="326.90" x2="515.60" y2="326.90" class="t"/>
<line x1="503.00" y1="347.90" x2="515.60" y2="347.90" class="t"/>
<line x1="511.50" y1="315.00" x2="511.50" y2="358.75" class="t"/>
<path d="M511.50,326.90 L510.60,319.90 L512.40,319.90 Z" class="ar"/>
<path d="M511.50,347.90 L512.40,354.90 L510.60,354.90 Z" class="ar"/>
<text transform="translate(507.00,337.40) rotate(-90)" x="-10.50" y="3.00" font-size="8.96" textLength="21.00" lengthAdjust="spacingAndGlyphs" class="tx">ø44.45</text>
<line x1="435.00" y1="249.80" x2="536.00" y2="249.80" class="t"/>
<line x1="440.00" y1="425.00" x2="536.00" y2="425.00" class="t"/>
<line x1="531.75" y1="249.80" x2="531.75" y2="425.00" class="t"/>
<path d="M531.75,249.80 L532.65,256.80 L530.85,256.80 Z" class="ar"/>
<path d="M531.75,425.00 L530.85,418.00 L532.65,418.00 Z" class="ar"/>
<text transform="translate(527.50,337.50) rotate(-90)" x="-8.75" y="3.00" font-size="8.96" textLength="17.50" lengthAdjust="spacingAndGlyphs" class="tx">368.8</text>
<text x="493.75" y="374.50" font-size="8.96" textLength="30.75" lengthAdjust="spacingAndGlyphs" class="tx">1 3/4 Z20</text>
<line x1="491.00" y1="375.50" x2="524.50" y2="375.50" class="t"/>
<line x1="491.00" y1="375.50" x2="485.00" y2="342.00" class="t"/>
<text x="453.75" y="266.25" font-size="8.43" textLength="27.50" lengthAdjust="spacingAndGlyphs" class="tx">4-Φ17.5</text>
<line x1="452.50" y1="267.50" x2="481.00" y2="267.50" class="t"/>
<line x1="436.00" y1="251.00" x2="453.00" y2="267.50" class="t"/>
<path d="M461.50,270.70 L461.93,271.26" class="cj"/>
<path d="M461.12,272.80 L462.12,272.80 L462.12,275.60 L461.31,276.44" class="cj"/>
<path d="M461.31,276.44 L467.08,276.65" class="cj"/>
<path d="M463.48,270.35 L466.58,270.35 L465.03,271.40" class="cj"/>
<path d="M463.48,275.60 L463.48,271.75 L466.70,271.75 L466.70,275.60 L466.27,275.25" class="cj"/>
<path d="M463.48,273.15 L466.70,273.15" class="cj"/>
<path d="M463.48,274.34 L466.70,274.34" class="cj"/>
<path d="M465.09,271.75 L465.09,275.60" class="cj"/>
<path d="M468.20,270.70 L470.49,270.70 L469.44,272.10" class="cj"/>
<path d="M469.44,272.10 L469.44,276.65 L468.94,276.16" class="cj"/>
<path d="M467.82,273.50 L470.80,273.15" class="cj"/>
<path d="M471.73,270.35 L471.73,276.30 L473.78,276.30 L473.78,275.25" class="cj"/>
<text x="450.00" y="389.30" font-size="9.03" textLength="27.50" lengthAdjust="spacingAndGlyphs" class="tx">4-1/2-13</text>
<line x1="450.00" y1="390.00" x2="477.50" y2="390.00" class="t"/>
<line x1="434.00" y1="380.00" x2="450.00" y2="390.00" class="t"/>
<path d="M452.81,395.90 L454.98,395.90" class="cj"/>
<path d="M453.86,395.90 L453.86,400.10" class="cj"/>
<path d="M452.62,400.45 L455.10,399.75" class="cj"/>
<path d="M456.22,394.64 L455.60,396.95" class="cj"/>
<path d="M455.91,396.25 L458.39,396.25" class="cj"/>
<path d="M457.77,396.25 L455.91,401.15" class="cj"/>
<path d="M455.91,397.65 L458.58,401.15" class="cj"/>
<path d="M459.70,395.34 L460.32,395.90" class="cj"/>
<path d="M459.51,397.44 L460.13,398.00" class="cj"/>
<path d="M459.51,400.66 L460.44,399.05" class="cj"/>
<path d="M461.37,396.25 L461.37,395.20 L465.09,395.20 L465.09,396.25" class="cj"/>
<path d="M462.42,395.76 L461.99,396.95" class="cj"/>
<path d="M464.04,395.76 L464.47,396.95" class="cj"/>
<path d="M461.37,397.65 L465.28,397.65" class="cj"/>
<path d="M463.29,396.95 L463.29,401.36" class="cj"/>
<path d="M463.29,398.00 L461.56,400.45" class="cj"/>
<path d="M463.29,398.00 L465.28,400.45" class="cj"/>
<text x="469.00" y="401.25" font-size="9.33" textLength="7.25" lengthAdjust="spacingAndGlyphs" class="tx">21</text>
<line x1="363.00" y1="307.00" x2="405.00" y2="307.00" class="t"/>
<line x1="363.00" y1="367.00" x2="405.00" y2="367.00" class="t"/>
<line x1="401.90" y1="307.50" x2="401.90" y2="367.00" class="t"/>
<path d="M401.90,307.50 L402.80,314.50 L401.00,314.50 Z" class="ar"/>
<path d="M401.90,367.00 L401.00,360.00 L402.80,360.00 Z" class="ar"/>
<text transform="translate(397.50,325.30) rotate(-90)" x="-4.70" y="3.10" font-size="9.25" textLength="9.40" lengthAdjust="spacingAndGlyphs" class="tx">127</text>
<line x1="343.75" y1="380.00" x2="343.75" y2="450.00" class="t"/>
<line x1="445.50" y1="440.00" x2="445.50" y2="450.00" class="t"/>
<line x1="343.75" y1="447.00" x2="445.50" y2="447.00" class="t"/>
<path d="M343.75,447.00 L350.75,446.10 L350.75,447.90 Z" class="ar"/>
<path d="M445.50,447.00 L438.50,447.90 L438.50,446.10 Z" class="ar"/>
<text x="403.75" y="446.00" font-size="9.70" textLength="17.50" lengthAdjust="spacingAndGlyphs" class="tx">216.3</text>
<text x="246.25" y="445.50" font-size="8.96" textLength="32.50" lengthAdjust="spacingAndGlyphs" class="tx">1 3/4 Z20</text>
<line x1="246.00" y1="446.00" x2="279.00" y2="446.00" class="t"/>
<path d="M279,446 Q290,448 300,456" class="t"/>
<text transform="translate(289.40,427.50) rotate(-40)" x="-3.00" y="3.75" font-size="11.19" textLength="6.00" lengthAdjust="spacingAndGlyphs" class="tx">D</text>
<line x1="290.00" y1="437.50" x2="305.00" y2="426.00" class="t"/>
<path d="M309.00,423.00 L305.69,428.39 L303.12,425.32 Z" class="ar"/>
<line x1="310.00" y1="466.25" x2="352.50" y2="520.00" class="t"/>
<line x1="323.75" y1="456.25" x2="333.75" y2="470.00" class="t"/>
<line x1="336.25" y1="445.00" x2="357.50" y2="471.25" class="t"/>
<line x1="351.25" y1="436.25" x2="382.50" y2="473.75" class="t"/>
<line x1="312.00" y1="484.60" x2="336.80" y2="463.40" class="t"/>
<path d="M312.00,484.60 L316.74,479.37 L317.91,480.74 Z" class="ar"/>
<path d="M336.80,463.40 L332.06,468.63 L330.89,467.26 Z" class="ar"/>
<text transform="translate(322.50,471.00) rotate(-40.6)" x="-3.50" y="3.00" font-size="8.96" textLength="7.00" lengthAdjust="spacingAndGlyphs" class="tx">38</text>
<line x1="330.00" y1="489.40" x2="355.00" y2="468.00" class="t"/>
<path d="M330.00,489.40 L334.73,484.16 L335.90,485.53 Z" class="ar"/>
<path d="M355.00,468.00 L350.27,473.24 L349.10,471.87 Z" class="ar"/>
<text transform="translate(340.60,475.60) rotate(-40.6)" x="-3.50" y="3.00" font-size="8.96" textLength="7.00" lengthAdjust="spacingAndGlyphs" class="tx">73</text>
<line x1="340.60" y1="503.75" x2="380.00" y2="470.00" class="t"/>
<path d="M340.60,503.75 L345.33,498.51 L346.50,499.88 Z" class="ar"/>
<path d="M380.00,470.00 L375.27,475.24 L374.10,473.87 Z" class="ar"/>
<text transform="translate(357.50,484.50) rotate(-40.6)" x="-10.50" y="3.00" font-size="8.96" textLength="21.00" lengthAdjust="spacingAndGlyphs" class="tx">109.54</text>
<line x1="352.00" y1="520.00" x2="372.00" y2="538.50" class="t"/>
<line x1="370.00" y1="538.75" x2="513.75" y2="415.00" class="t"/>
<path d="M370.00,538.75 L374.71,533.49 L375.89,534.86 Z" class="ar"/>
<path d="M513.75,415.00 L509.04,420.26 L507.86,418.89 Z" class="ar"/>
<line x1="446.25" y1="337.00" x2="516.00" y2="417.00" class="t"/>
<text transform="translate(432.50,475.60) rotate(-42)" x="-11.50" y="3.00" font-size="8.96" textLength="23.00" lengthAdjust="spacingAndGlyphs" class="tx">403.29</text>
<path d="M103.8,486.2 L107.5,473.8 L111.2,486.2 M105,481.8 L110,481.8" class="cj" style="stroke-width:0.9"/>
<line x1="111.50" y1="481.50" x2="126.00" y2="481.50" class="m"/>
<path d="M140.5,481.5 L126,479.3 L126,483.7 Z" style="fill:#666;stroke:#000;stroke-width:0.8"/>
<circle cx="199.75" cy="527.90" r="48.50" class="k"/>
<circle cx="199.75" cy="527.90" r="45.40" class="m"/>
<circle cx="199.75" cy="527.90" r="40.50" class="t"/>
<line x1="225.75" y1="526.10" x2="245.15" y2="526.10" class="m"/>
<line x1="225.75" y1="529.70" x2="245.15" y2="529.70" class="m"/>
<line x1="219.41" y1="545.01" x2="233.13" y2="558.73" class="m"/>
<line x1="216.86" y1="547.56" x2="230.58" y2="561.28" class="m"/>
<line x1="201.55" y1="553.90" x2="201.55" y2="573.30" class="m"/>
<line x1="197.95" y1="553.90" x2="197.95" y2="573.30" class="m"/>
<line x1="182.64" y1="547.56" x2="168.92" y2="561.28" class="m"/>
<line x1="180.09" y1="545.01" x2="166.37" y2="558.73" class="m"/>
<line x1="173.75" y1="529.70" x2="154.35" y2="529.70" class="m"/>
<line x1="173.75" y1="526.10" x2="154.35" y2="526.10" class="m"/>
<line x1="180.09" y1="510.79" x2="166.37" y2="497.07" class="m"/>
<line x1="182.64" y1="508.24" x2="168.92" y2="494.52" class="m"/>
<line x1="197.95" y1="501.90" x2="197.95" y2="482.50" class="m"/>
<line x1="201.55" y1="501.90" x2="201.55" y2="482.50" class="m"/>
<line x1="216.86" y1="508.24" x2="230.58" y2="494.52" class="m"/>
<line x1="219.41" y1="510.79" x2="233.13" y2="497.07" class="m"/>
<circle cx="240.03" cy="544.58" r="3.60" class="m"/>
<line x1="237.63" y1="542.18" x2="242.43" y2="546.98" class="t"/>
<line x1="237.63" y1="546.98" x2="242.43" y2="542.18" class="t"/>
<circle cx="216.43" cy="568.18" r="3.60" class="m"/>
<line x1="214.03" y1="565.78" x2="218.83" y2="570.58" class="t"/>
<line x1="214.03" y1="570.58" x2="218.83" y2="565.78" class="t"/>
<circle cx="183.07" cy="568.18" r="3.60" class="m"/>
<line x1="180.67" y1="565.78" x2="185.47" y2="570.58" class="t"/>
<line x1="180.67" y1="570.58" x2="185.47" y2="565.78" class="t"/>
<circle cx="159.47" cy="544.58" r="3.60" class="m"/>
<line x1="157.07" y1="542.18" x2="161.87" y2="546.98" class="t"/>
<line x1="157.07" y1="546.98" x2="161.87" y2="542.18" class="t"/>
<circle cx="159.47" cy="511.22" r="3.60" class="m"/>
<line x1="157.07" y1="508.82" x2="161.87" y2="513.62" class="t"/>
<line x1="157.07" y1="513.62" x2="161.87" y2="508.82" class="t"/>
<circle cx="183.07" cy="487.62" r="3.60" class="m"/>
<line x1="180.67" y1="485.22" x2="185.47" y2="490.02" class="t"/>
<line x1="180.67" y1="490.02" x2="185.47" y2="485.22" class="t"/>
<circle cx="216.43" cy="487.62" r="3.60" class="m"/>
<line x1="214.03" y1="485.22" x2="218.83" y2="490.02" class="t"/>
<line x1="214.03" y1="490.02" x2="218.83" y2="485.22" class="t"/>
<circle cx="240.03" cy="511.22" r="3.60" class="m"/>
<line x1="237.63" y1="508.82" x2="242.43" y2="513.62" class="t"/>
<line x1="237.63" y1="513.62" x2="242.43" y2="508.82" class="t"/>
<circle cx="199.75" cy="527.9" r="24" class="hw"/>
<circle cx="226.15" cy="527.90" r="4.4" class="hw"/>
<circle cx="199.75" cy="554.30" r="4.4" class="hw"/>
<circle cx="173.35" cy="527.90" r="4.4" class="hw"/>
<circle cx="199.75" cy="501.50" r="4.4" class="hw"/>
<circle cx="199.75" cy="527.9" r="23.2" style="fill:#fff;stroke:none"/>
<circle cx="226.15" cy="527.90" r="1.7" class="fk"/>
<circle cx="199.75" cy="554.30" r="1.7" class="fk"/>
<circle cx="173.35" cy="527.90" r="1.7" class="fk"/>
<circle cx="199.75" cy="501.50" r="1.7" class="fk"/>
<circle cx="199.75" cy="527.90" r="21.30" class="k"/>
<circle cx="199.75" cy="527.90" r="19.30" class="m"/>
<path d="M210.05,527.90 L208.26,529.12 L209.63,530.80 L207.57,531.47 L208.41,533.47 L206.25,533.53 L206.50,535.68 L204.40,535.13 L204.03,537.27 L202.17,536.15 L201.22,538.10 L199.75,536.50 L198.28,538.10 L197.33,536.15 L195.47,537.27 L195.10,535.13 L193.00,535.68 L193.25,533.53 L191.09,533.47 L191.93,531.47 L189.87,530.80 L191.24,529.12 L189.45,527.90 L191.24,526.68 L189.87,525.00 L191.93,524.33 L191.09,522.33 L193.25,522.27 L193.00,520.12 L195.10,520.67 L195.47,518.53 L197.33,519.65 L198.28,517.70 L199.75,519.30 L201.22,517.70 L202.17,519.65 L204.03,518.53 L204.40,520.67 L206.50,520.12 L206.25,522.27 L208.41,522.33 L207.57,524.33 L209.63,525.00 L208.26,526.68 Z" class="m"/>
<line x1="199.75" y1="465.00" x2="199.75" y2="581.00" class="c"/>
<line x1="143.75" y1="527.90" x2="263.75" y2="527.90" class="c"/>
<path d="M199.75,467.90 A60,60 0 0 1 237.51,481.27 M248.29,492.63 A60,60 0 0 1 259.75,527.90" class="t"/>
<path d="M259.75,527.40 L258.79,523.36 L260.99,523.44 Z" class="ar"/>
<path d="M200.05,468.00 L206.06,467.20 L206.03,469.00 Z" class="ar"/>
<line x1="199.75" y1="465.00" x2="199.75" y2="470.00" class="t"/>
<text x="236.25" y="490.00" font-size="11.19" textLength="10.00" lengthAdjust="spacingAndGlyphs" class="tx">90°</text>
<line x1="151.90" y1="507.00" x2="218.00" y2="540.00" class="t"/>
<line x1="218.00" y1="540.00" x2="243.75" y2="558.75" class="t"/>
<line x1="243.75" y1="558.75" x2="265.00" y2="558.75" class="t"/>
<text x="250.00" y="558.00" font-size="8.21" textLength="15.00" lengthAdjust="spacingAndGlyphs" class="tx">ø110</text>
<line x1="92.50" y1="549.25" x2="128.75" y2="549.25" class="t"/>
<line x1="128.75" y1="549.25" x2="172.50" y2="529.00" class="t"/>
<text x="93.75" y="548.00" font-size="8.96" textLength="33.75" lengthAdjust="spacingAndGlyphs" class="tx">4- 5/16-18</text>
<path d="M104.27,553.34 L104.92,553.90" class="cj"/>
<path d="M104.08,555.44 L104.72,556.00" class="cj"/>
<path d="M104.08,558.66 L105.05,557.05" class="cj"/>
<path d="M106.03,554.25 L106.03,553.20 L109.92,553.20 L109.92,554.25" class="cj"/>
<path d="M107.13,553.76 L106.67,554.95" class="cj"/>
<path d="M108.82,553.76 L109.28,554.95" class="cj"/>
<path d="M106.03,555.65 L110.12,555.65" class="cj"/>
<path d="M108.04,554.95 L108.04,559.36" class="cj"/>
<path d="M108.04,556.00 L106.22,558.45" class="cj"/>
<path d="M108.04,556.00 L110.12,558.45" class="cj"/>
<text x="110.50" y="559.25" font-size="8.21" textLength="7.00" lengthAdjust="spacingAndGlyphs" class="tx">20</text>
<text x="195.50" y="601.25" font-size="14.93" textLength="5.50" lengthAdjust="spacingAndGlyphs" class="tx">D</text>
<path d="M205.10,591.25 L204.54,592.75" class="cj"/>
<path d="M202.30,601.05 L202.30,593.25 L208.86,593.25 L208.86,600.75 L208.06,600.25" class="cj"/>
<path d="M204.06,595.75 L207.10,595.75 L207.10,598.75 L204.06,598.75 L204.06,595.75" class="cj"/>
<g transform="translate(708,337) rotate(220.6)">
<path d="M144,9 L188,9 Q190,9 190,7 L190,-9.3 Q190,-11.3 188,-11.3 L144,-11.3" class="k"/>
<line x1="187.50" y1="-11.30" x2="187.50" y2="9.00" class="m"/>
<line x1="175.50" y1="-11.30" x2="175.50" y2="9.00" class="m"/>
<line x1="169.70" y1="-11.30" x2="169.70" y2="9.00" class="m"/>
<line x1="144.00" y1="-11.60" x2="144.00" y2="9.40" class="m"/>
<path d="M144.00,-14.00 L140.00,-16.00 L138.30,-16.00" class="m"/>
<path d="M144.00,12.00 L140.00,14.00 L138.30,14.00" class="m"/>
<line x1="142.00" y1="-15.00" x2="142.00" y2="13.00" class="m"/>
<line x1="140.30" y1="-15.50" x2="140.30" y2="13.50" class="t"/>
<path d="M138.30,29.50 L106.00,33.00 L103.30,40.60 L97.80,37.30 L89.20,24.90 L92.00,20.50 L125.00,20.50 L134.00,22.50 L138.30,22.50 Z" class="h"/>
<path d="M138.30,-26.30 L108.60,-28.70 L104.60,-28.60 L101.90,-39.40 L96.60,-34.10 L93.50,-23.20 L96.90,-20.80 L127.30,-21.00 L138.30,-21.00 Z" class="h"/>
<line x1="138.30" y1="-26.30" x2="138.30" y2="29.50" class="k"/>
<g transform="translate(128,15.5) rotate(0)">
<rect x="-3.5" y="-2.75" width="7" height="5.5" class="hw" style="stroke-width:1.1"/>
<line x1="-2.90" y1="-1.95" x2="-1.70" y2="1.95" class="t"/>
<line x1="-1.37" y1="-1.95" x2="-0.17" y2="1.95" class="t"/>
<line x1="0.17" y1="-1.95" x2="1.37" y2="1.95" class="t"/>
<line x1="1.70" y1="-1.95" x2="2.90" y2="1.95" class="t"/>
</g>
<g transform="translate(126,-17) rotate(0)">
<rect x="-3.5" y="-2.75" width="7" height="5.5" class="hw" style="stroke-width:1.1"/>
<line x1="-2.90" y1="-1.95" x2="-1.70" y2="1.95" class="t"/>
<line x1="-1.37" y1="-1.95" x2="-0.17" y2="1.95" class="t"/>
<line x1="0.17" y1="-1.95" x2="1.37" y2="1.95" class="t"/>
<line x1="1.70" y1="-1.95" x2="2.90" y2="1.95" class="t"/>
</g>
<g transform="translate(95.2,16.5) rotate(0)">
<rect x="-3.5" y="-2.75" width="7" height="5.5" class="hw" style="stroke-width:1.1"/>
<line x1="-2.90" y1="-1.95" x2="-1.70" y2="1.95" class="t"/>
<line x1="-1.37" y1="-1.95" x2="-0.17" y2="1.95" class="t"/>
<line x1="0.17" y1="-1.95" x2="1.37" y2="1.95" class="t"/>
<line x1="1.70" y1="-1.95" x2="2.90" y2="1.95" class="t"/>
</g>
<g transform="translate(94.6,-17.5) rotate(0)">
<rect x="-3.5" y="-2.75" width="7" height="5.5" class="hw" style="stroke-width:1.1"/>
<line x1="-2.90" y1="-1.95" x2="-1.70" y2="1.95" class="t"/>
<line x1="-1.37" y1="-1.95" x2="-0.17" y2="1.95" class="t"/>
<line x1="0.17" y1="-1.95" x2="1.37" y2="1.95" class="t"/>
<line x1="1.70" y1="-1.95" x2="2.90" y2="1.95" class="t"/>
</g>
<g transform="translate(133.5,24) rotate(0)">
<rect x="-2.5" y="-2.5" width="5" height="5" class="hw" style="stroke-width:1.1"/>
<line x1="-1.90" y1="-1.70" x2="-0.70" y2="1.70" class="t"/>
<line x1="-1.03" y1="-1.70" x2="0.17" y2="1.70" class="t"/>
<line x1="-0.17" y1="-1.70" x2="1.03" y2="1.70" class="t"/>
<line x1="0.70" y1="-1.70" x2="1.90" y2="1.70" class="t"/>
</g>
<line x1="123.20" y1="-15.50" x2="123.20" y2="11.50" class="k"/>
<line x1="98.00" y1="-14.00" x2="98.00" y2="11.00" class="k"/>
<line x1="133.00" y1="-20.50" x2="133.00" y2="19.50" class="m"/>
<line x1="105.50" y1="-20.00" x2="105.50" y2="20.00" class="t"/>
<line x1="98.00" y1="16.00" x2="126.00" y2="16.00" class="m"/>
<line x1="98.00" y1="-17.50" x2="124.00" y2="-17.50" class="m"/>
<line x1="73.00" y1="11.00" x2="144.00" y2="11.00" class="m"/>
<line x1="73.00" y1="-12.50" x2="144.00" y2="-12.50" class="m"/>
<line x1="60.00" y1="-0.50" x2="200.00" y2="-0.50" class="t"/>
<path d="M88.00,-14.50 L88.00,11.00 L73.00,11.00 L73.00,-13.50 Z" class="k"/>
<line x1="80.50" y1="-13.50" x2="80.50" y2="11.00" class="m"/>
<path d="M88.00,11.00 L88.00,16.00 L83.00,28.00 L72.00,26.00 L72.00,11.00 Z" class="h"/>
<path d="M82.00,26.50 L85.00,32.00 L73.50,33.00 L72.00,27.00 Z" class="m"/>
<path d="M73,-13 L66,-13 L64,-9 L66,-5 L64,-1 L66,3 L64,7 L66,10 L73,10" class="m"/>
<line x1="69.00" y1="-13.00" x2="69.00" y2="10.00" class="t"/>
</g>
<path d="M626.00,291.00 L642.50,299.50 L639.00,309.00 L636.00,316.00 L635.00,323.10 L621.20,323.10 L622.00,312.00 L627.50,302.00 Z" class="h"/>
<line x1="626.50" y1="303.50" x2="638.00" y2="308.50" class="m"/>
<line x1="626.00" y1="305.50" x2="637.50" y2="310.50" class="m"/>
<path d="M603.10,311.30 L610.00,311.30 L610.00,323.10 L603.10,323.10 Z" class="h2"/>
<rect x="610.5" y="312.5" width="9.5" height="10.6" class="hw"/>
<line x1="611.50" y1="314.50" x2="619.00" y2="315.50" class="t"/>
<line x1="611.50" y1="316.50" x2="619.00" y2="317.50" class="t"/>
<line x1="611.50" y1="318.50" x2="619.00" y2="319.50" class="t"/>
<line x1="611.50" y1="320.50" x2="619.00" y2="321.50" class="t"/>
<path d="M608.5,290 L598.75,285.3 L598.75,285.27 A12.5,12.5 0 0 0 586.25,306.93 L604,321.5" class="k"/>
<line x1="587.50" y1="304.50" x2="603.50" y2="318.00" class="t"/>
<circle cx="592.50" cy="296.10" r="3.40" class="m"/>
<line x1="588.50" y1="296.10" x2="596.50" y2="296.10" class="t"/>
<line x1="592.50" y1="292.00" x2="592.50" y2="300.20" class="t"/>
<g transform="translate(603,305) rotate(-50)">
<rect x="-5" y="-2.8" width="10" height="5.6" class="hw"/>
<line x1="-3.00" y1="-2.80" x2="-3.00" y2="2.80" class="t"/>
<line x1="-1.50" y1="-2.80" x2="-1.50" y2="2.80" class="t"/>
<line x1="0.00" y1="-2.80" x2="0.00" y2="2.80" class="t"/>
<line x1="1.50" y1="-2.80" x2="1.50" y2="2.80" class="t"/>
<line x1="3.00" y1="-2.80" x2="3.00" y2="2.80" class="t"/>
</g>
<g transform="translate(658,238) rotate(38)">
<rect x="-5.5" y="-3" width="11" height="6" class="hw"/>
<line x1="-3.50" y1="-3.00" x2="-3.50" y2="3.00" class="t"/>
<line x1="-1.50" y1="-3.00" x2="-1.50" y2="3.00" class="t"/>
<line x1="0.50" y1="-3.00" x2="0.50" y2="3.00" class="t"/>
<line x1="2.50" y1="-3.00" x2="2.50" y2="3.00" class="t"/>
</g>
<line x1="638.50" y1="234.50" x2="655.00" y2="231.50" class="t"/>
<path d="M663.00,240.50 L665.50,238.00 L684.40,253.50 L684.40,291.30 L676.90,291.30 L676.90,257.00 L663.00,244.50 Z" class="h2"/>
<path d="M673.75,243.1 L690,237 L690.04,237.12 A13.6,13.6 0 1 1 687.60,261.78 L677,267" class="k"/>
<line x1="675.00" y1="245.50" x2="689.50" y2="240.00" class="t"/>
<line x1="685.00" y1="263.50" x2="698.00" y2="258.50" class="t"/>
<circle cx="694.40" cy="250.00" r="4.20" class="m"/>
<line x1="690.00" y1="250.00" x2="699.00" y2="250.00" class="t"/>
<line x1="694.40" y1="245.50" x2="694.40" y2="254.50" class="t"/>
<rect x="677.5" y="270" width="12.5" height="13.75" class="hw"/>
<line x1="677.50" y1="275.00" x2="690.00" y2="275.00" class="t"/>
<line x1="677.50" y1="279.40" x2="690.00" y2="279.40" class="t"/>
<line x1="685.00" y1="270.00" x2="685.00" y2="283.75" class="t"/>
<path d="M677.50,292.00 L695.00,291.30 L695.00,298.10 L677.50,297.50 Z" class="hw"/>
<line x1="688.75" y1="291.30" x2="688.75" y2="298.10" class="t"/>
<line x1="690.60" y1="291.30" x2="690.60" y2="298.10" class="t"/>
<line x1="692.50" y1="291.30" x2="692.50" y2="298.10" class="t"/>
<line x1="677.50" y1="295.00" x2="688.75" y2="295.00" class="t"/>
<path d="M683.75,297.50 L690.00,297.50 L692.50,302.50 L697.50,303.75 L705.25,312.50 L705.25,330.00 L701.25,330.00 L700.00,317.50 L691.25,308.00 L686.25,305.00 L683.75,300.00 Z" class="h3"/>
<path d="M678.75,292.5 Q672,292 672.5,296 L672.5,300 L678.75,300" class="m"/>
<path d="M672.50,316.25 L680.00,316.25 L680.00,320.60 L672.50,320.60 Z" class="m"/>
<line x1="676.90" y1="300.00" x2="676.90" y2="316.25" class="m"/>
<line x1="680.00" y1="300.00" x2="680.00" y2="316.25" class="m"/>
<path d="M700.00,316.00 L706.00,318.00 L706.00,337.00 L700.00,337.00 Z" class="h"/>
<line x1="690.00" y1="321.00" x2="690.00" y2="337.00" class="k"/>
<line x1="700.00" y1="316.00" x2="700.00" y2="337.00" class="k"/>
<line x1="706.00" y1="318.00" x2="706.00" y2="337.00" class="k"/>
<path d="M690.50,321.00 L699.50,321.00 L699.50,328.00 L690.50,328.00 Z" class="hw"/>
<line x1="692.50" y1="321.50" x2="693.50" y2="327.50" class="t"/>
<line x1="695.00" y1="321.50" x2="696.00" y2="327.50" class="t"/>
<line x1="697.50" y1="321.50" x2="698.50" y2="327.50" class="t"/>
<line x1="649.40" y1="324.00" x2="708.00" y2="324.00" class="t"/>
<line x1="621.25" y1="300.00" x2="708.00" y2="337.00" class="t"/>
<line x1="638.75" y1="308.75" x2="708.00" y2="337.00" class="t"/>
<line x1="660.00" y1="296.25" x2="708.00" y2="337.00" class="t"/>
<line x1="612.00" y1="318.00" x2="708.00" y2="337.00" class="t"/>
<line x1="647.00" y1="281.00" x2="708.00" y2="337.00" class="t"/>
<g transform="translate(0,674) scale(1,-1)">
<g transform="translate(708,337) rotate(220.6)">
<path d="M144,9 L188,9 Q190,9 190,7 L190,-9.3 Q190,-11.3 188,-11.3 L144,-11.3" class="k"/>
<line x1="187.50" y1="-11.30" x2="187.50" y2="9.00" class="m"/>
<line x1="175.50" y1="-11.30" x2="175.50" y2="9.00" class="m"/>
<line x1="169.70" y1="-11.30" x2="169.70" y2="9.00" class="m"/>
<line x1="144.00" y1="-11.60" x2="144.00" y2="9.40" class="m"/>
<path d="M144.00,-14.00 L140.00,-16.00 L138.30,-16.00" class="m"/>
<path d="M144.00,12.00 L140.00,14.00 L138.30,14.00" class="m"/>
<line x1="142.00" y1="-15.00" x2="142.00" y2="13.00" class="m"/>
<line x1="140.30" y1="-15.50" x2="140.30" y2="13.50" class="t"/>
<path d="M138.30,29.50 L106.00,33.00 L103.30,40.60 L97.80,37.30 L89.20,24.90 L92.00,20.50 L125.00,20.50 L134.00,22.50 L138.30,22.50 Z" class="h"/>
<path d="M138.30,-26.30 L108.60,-28.70 L104.60,-28.60 L101.90,-39.40 L96.60,-34.10 L93.50,-23.20 L96.90,-20.80 L127.30,-21.00 L138.30,-21.00 Z" class="h"/>
<line x1="138.30" y1="-26.30" x2="138.30" y2="29.50" class="k"/>
<g transform="translate(128,15.5) rotate(0)">
<rect x="-3.5" y="-2.75" width="7" height="5.5" class="hw" style="stroke-width:1.1"/>
<line x1="-2.90" y1="-1.95" x2="-1.70" y2="1.95" class="t"/>
<line x1="-1.37" y1="-1.95" x2="-0.17" y2="1.95" class="t"/>
<line x1="0.17" y1="-1.95" x2="1.37" y2="1.95" class="t"/>
<line x1="1.70" y1="-1.95" x2="2.90" y2="1.95" class="t"/>
</g>
<g transform="translate(126,-17) rotate(0)">
<rect x="-3.5" y="-2.75" width="7" height="5.5" class="hw" style="stroke-width:1.1"/>
<line x1="-2.90" y1="-1.95" x2="-1.70" y2="1.95" class="t"/>
<line x1="-1.37" y1="-1.95" x2="-0.17" y2="1.95" class="t"/>
<line x1="0.17" y1="-1.95" x2="1.37" y2="1.95" class="t"/>
<line x1="1.70" y1="-1.95" x2="2.90" y2="1.95" class="t"/>
</g>
<g transform="translate(95.2,16.5) rotate(0)">
<rect x="-3.5" y="-2.75" width="7" height="5.5" class="hw" style="stroke-width:1.1"/>
<line x1="-2.90" y1="-1.95" x2="-1.70" y2="1.95" class="t"/>
<line x1="-1.37" y1="-1.95" x2="-0.17" y2="1.95" class="t"/>
<line x1="0.17" y1="-1.95" x2="1.37" y2="1.95" class="t"/>
<line x1="1.70" y1="-1.95" x2="2.90" y2="1.95" class="t"/>
</g>
<g transform="translate(94.6,-17.5) rotate(0)">
<rect x="-3.5" y="-2.75" width="7" height="5.5" class="hw" style="stroke-width:1.1"/>
<line x1="-2.90" y1="-1.95" x2="-1.70" y2="1.95" class="t"/>
<line x1="-1.37" y1="-1.95" x2="-0.17" y2="1.95" class="t"/>
<line x1="0.17" y1="-1.95" x2="1.37" y2="1.95" class="t"/>
<line x1="1.70" y1="-1.95" x2="2.90" y2="1.95" class="t"/>
</g>
<g transform="translate(133.5,24) rotate(0)">
<rect x="-2.5" y="-2.5" width="5" height="5" class="hw" style="stroke-width:1.1"/>
<line x1="-1.90" y1="-1.70" x2="-0.70" y2="1.70" class="t"/>
<line x1="-1.03" y1="-1.70" x2="0.17" y2="1.70" class="t"/>
<line x1="-0.17" y1="-1.70" x2="1.03" y2="1.70" class="t"/>
<line x1="0.70" y1="-1.70" x2="1.90" y2="1.70" class="t"/>
</g>
<line x1="123.20" y1="-15.50" x2="123.20" y2="11.50" class="k"/>
<line x1="98.00" y1="-14.00" x2="98.00" y2="11.00" class="k"/>
<line x1="133.00" y1="-20.50" x2="133.00" y2="19.50" class="m"/>
<line x1="105.50" y1="-20.00" x2="105.50" y2="20.00" class="t"/>
<line x1="98.00" y1="16.00" x2="126.00" y2="16.00" class="m"/>
<line x1="98.00" y1="-17.50" x2="124.00" y2="-17.50" class="m"/>
<line x1="73.00" y1="11.00" x2="144.00" y2="11.00" class="m"/>
<line x1="73.00" y1="-12.50" x2="144.00" y2="-12.50" class="m"/>
<line x1="60.00" y1="-0.50" x2="200.00" y2="-0.50" class="t"/>
<path d="M88.00,-14.50 L88.00,11.00 L73.00,11.00 L73.00,-13.50 Z" class="k"/>
<line x1="80.50" y1="-13.50" x2="80.50" y2="11.00" class="m"/>
<path d="M88.00,11.00 L88.00,16.00 L83.00,28.00 L72.00,26.00 L72.00,11.00 Z" class="h"/>
<path d="M82.00,26.50 L85.00,32.00 L73.50,33.00 L72.00,27.00 Z" class="m"/>
<path d="M73,-13 L66,-13 L64,-9 L66,-5 L64,-1 L66,3 L64,7 L66,10 L73,10" class="m"/>
<line x1="69.00" y1="-13.00" x2="69.00" y2="10.00" class="t"/>
</g>
<path d="M626.00,291.00 L642.50,299.50 L639.00,309.00 L636.00,316.00 L635.00,323.10 L621.20,323.10 L622.00,312.00 L627.50,302.00 Z" class="h"/>
<line x1="626.50" y1="303.50" x2="638.00" y2="308.50" class="m"/>
<line x1="626.00" y1="305.50" x2="637.50" y2="310.50" class="m"/>
<path d="M603.10,311.30 L610.00,311.30 L610.00,323.10 L603.10,323.10 Z" class="h2"/>
<rect x="610.5" y="312.5" width="9.5" height="10.6" class="hw"/>
<line x1="611.50" y1="314.50" x2="619.00" y2="315.50" class="t"/>
<line x1="611.50" y1="316.50" x2="619.00" y2="317.50" class="t"/>
<line x1="611.50" y1="318.50" x2="619.00" y2="319.50" class="t"/>
<line x1="611.50" y1="320.50" x2="619.00" y2="321.50" class="t"/>
<path d="M608.5,290 L598.75,285.3 L598.75,285.27 A12.5,12.5 0 0 0 586.25,306.93 L604,321.5" class="k"/>
<line x1="587.50" y1="304.50" x2="603.50" y2="318.00" class="t"/>
<circle cx="592.50" cy="296.10" r="3.40" class="m"/>
<line x1="588.50" y1="296.10" x2="596.50" y2="296.10" class="t"/>
<line x1="592.50" y1="292.00" x2="592.50" y2="300.20" class="t"/>
<g transform="translate(603,305) rotate(-50)">
<rect x="-5" y="-2.8" width="10" height="5.6" class="hw"/>
<line x1="-3.00" y1="-2.80" x2="-3.00" y2="2.80" class="t"/>
<line x1="-1.50" y1="-2.80" x2="-1.50" y2="2.80" class="t"/>
<line x1="0.00" y1="-2.80" x2="0.00" y2="2.80" class="t"/>
<line x1="1.50" y1="-2.80" x2="1.50" y2="2.80" class="t"/>
<line x1="3.00" y1="-2.80" x2="3.00" y2="2.80" class="t"/>
</g>
<g transform="translate(658,238) rotate(38)">
<rect x="-5.5" y="-3" width="11" height="6" class="hw"/>
<line x1="-3.50" y1="-3.00" x2="-3.50" y2="3.00" class="t"/>
<line x1="-1.50" y1="-3.00" x2="-1.50" y2="3.00" class="t"/>
<line x1="0.50" y1="-3.00" x2="0.50" y2="3.00" class="t"/>
<line x1="2.50" y1="-3.00" x2="2.50" y2="3.00" class="t"/>
</g>
<line x1="638.50" y1="234.50" x2="655.00" y2="231.50" class="t"/>
<path d="M663.00,240.50 L665.50,238.00 L684.40,253.50 L684.40,291.30 L676.90,291.30 L676.90,257.00 L663.00,244.50 Z" class="h2"/>
<path d="M673.75,243.1 L690,237 L690.04,237.12 A13.6,13.6 0 1 1 687.60,261.78 L677,267" class="k"/>
<line x1="675.00" y1="245.50" x2="689.50" y2="240.00" class="t"/>
<line x1="685.00" y1="263.50" x2="698.00" y2="258.50" class="t"/>
<circle cx="694.40" cy="250.00" r="4.20" class="m"/>
<line x1="690.00" y1="250.00" x2="699.00" y2="250.00" class="t"/>
<line x1="694.40" y1="245.50" x2="694.40" y2="254.50" class="t"/>
<path d="M677.50,292.00 L695.00,291.30 L695.00,298.10 L677.50,297.50 Z" class="hw"/>
<line x1="688.75" y1="291.30" x2="688.75" y2="298.10" class="t"/>
<line x1="690.60" y1="291.30" x2="690.60" y2="298.10" class="t"/>
<line x1="692.50" y1="291.30" x2="692.50" y2="298.10" class="t"/>
<line x1="677.50" y1="295.00" x2="688.75" y2="295.00" class="t"/>
<path d="M683.75,297.50 L690.00,297.50 L692.50,302.50 L697.50,303.75 L705.25,312.50 L705.25,330.00 L701.25,330.00 L700.00,317.50 L691.25,308.00 L686.25,305.00 L683.75,300.00 Z" class="h3"/>
<path d="M678.75,292.5 Q672,292 672.5,296 L672.5,300 L678.75,300" class="m"/>
<path d="M672.50,316.25 L680.00,316.25 L680.00,320.60 L672.50,320.60 Z" class="m"/>
<line x1="676.90" y1="300.00" x2="676.90" y2="316.25" class="m"/>
<line x1="680.00" y1="300.00" x2="680.00" y2="316.25" class="m"/>
<path d="M700.00,316.00 L706.00,318.00 L706.00,337.00 L700.00,337.00 Z" class="h"/>
<line x1="690.00" y1="321.00" x2="690.00" y2="337.00" class="k"/>
<line x1="700.00" y1="316.00" x2="700.00" y2="337.00" class="k"/>
<line x1="706.00" y1="318.00" x2="706.00" y2="337.00" class="k"/>
<path d="M690.50,321.00 L699.50,321.00 L699.50,328.00 L690.50,328.00 Z" class="hw"/>
<line x1="692.50" y1="321.50" x2="693.50" y2="327.50" class="t"/>
<line x1="695.00" y1="321.50" x2="696.00" y2="327.50" class="t"/>
<line x1="697.50" y1="321.50" x2="698.50" y2="327.50" class="t"/>
<line x1="649.40" y1="324.00" x2="708.00" y2="324.00" class="t"/>
<line x1="621.25" y1="300.00" x2="708.00" y2="337.00" class="t"/>
<line x1="638.75" y1="308.75" x2="708.00" y2="337.00" class="t"/>
<line x1="660.00" y1="296.25" x2="708.00" y2="337.00" class="t"/>
<line x1="612.00" y1="318.00" x2="708.00" y2="337.00" class="t"/>
<line x1="647.00" y1="281.00" x2="708.00" y2="337.00" class="t"/>
</g>
<path d="M597.75,368.40 L601.25,366.60 L621.40,378.90 L624.00,385.00 L609.10,384.10 Z" class="h"/>
<path d="M603.75,327.3 L559.5,327.3 Q556.5,327.3 556.5,330.3 L556.5,343.7 Q556.5,346.7 559.5,346.7 L603.75,346.7" class="k"/>
<line x1="560.50" y1="326.50" x2="560.50" y2="347.50" class="t"/>
<line x1="571.50" y1="326.50" x2="571.50" y2="347.50" class="m"/>
<line x1="576.50" y1="326.50" x2="576.50" y2="347.50" class="m"/>
<line x1="591.00" y1="326.50" x2="591.00" y2="347.50" class="t"/>
<line x1="574.00" y1="323.00" x2="574.00" y2="352.00" class="t"/>
<line x1="603.10" y1="311.00" x2="603.10" y2="363.00" class="k"/>
<line x1="606.50" y1="311.00" x2="606.50" y2="363.00" class="m"/>
<line x1="608.50" y1="311.00" x2="608.50" y2="363.00" class="m"/>
<rect x="620" y="323.1" width="29.4" height="27.5" class="m"/>
<line x1="620.00" y1="323.10" x2="620.00" y2="350.60" class="k"/>
<line x1="635.00" y1="323.10" x2="635.00" y2="350.60" class="k"/>
<line x1="649.40" y1="323.10" x2="649.40" y2="350.60" class="m"/>
<line x1="603.00" y1="326.90" x2="649.40" y2="326.90" class="t"/>
<line x1="603.00" y1="348.10" x2="649.40" y2="348.10" class="t"/>
<line x1="649.40" y1="326.90" x2="708.00" y2="333.00" class="t"/>
<line x1="649.40" y1="347.10" x2="708.00" y2="341.00" class="t"/>
<path d="M708,327.3 L759.5,327.3 Q762,327.3 762,330 L762,344 Q762,346.7 759.5,346.7 L708,346.7" class="k"/>
<line x1="741.00" y1="326.50" x2="741.00" y2="347.50" class="m"/>
<line x1="744.00" y1="326.50" x2="744.00" y2="347.50" class="t"/>
<line x1="751.00" y1="326.50" x2="751.00" y2="347.50" class="t"/>
<line x1="758.50" y1="326.50" x2="758.50" y2="347.50" class="t"/>
<line x1="548.00" y1="337.00" x2="775.00" y2="337.00" class="c"/>
<line x1="728.00" y1="324.00" x2="728.00" y2="350.00" class="t"/>
<line x1="708.00" y1="337.00" x2="722.91" y2="315.70" class="t"/>
<line x1="708.00" y1="337.00" x2="729.30" y2="322.09" class="t"/>
<line x1="708.00" y1="337.00" x2="729.30" y2="351.91" class="t"/>
<line x1="708.00" y1="337.00" x2="722.91" y2="358.30" class="t"/>
<line x1="708.00" y1="337.00" x2="686.70" y2="351.91" class="t"/>
<line x1="708.00" y1="337.00" x2="686.70" y2="322.09" class="t"/>
<line x1="708.75" y1="305.00" x2="708.75" y2="369.00" class="t"/>
<text x="657.40" y="490.40" font-size="15.52" textLength="13.60" lengthAdjust="spacingAndGlyphs" class="tx">A-A</text>
<text x="640.00" y="457.40" font-size="11.49" textLength="15.00" lengthAdjust="spacingAndGlyphs" class="tx">0.75</text>
<line x1="639.00" y1="458.00" x2="656.00" y2="458.00" class="t"/>
<line x1="656.00" y1="458.00" x2="668.00" y2="448.00" class="t"/>
<line x1="660.00" y1="450.00" x2="672.00" y2="440.00" class="t"/>
<path d="M660.00,450.00 L662.42,446.66 L663.71,448.19 Z" class="ar"/>
<path d="M672.00,440.00 L669.58,443.34 L668.29,441.81 Z" class="ar"/>
</svg></body></html>
